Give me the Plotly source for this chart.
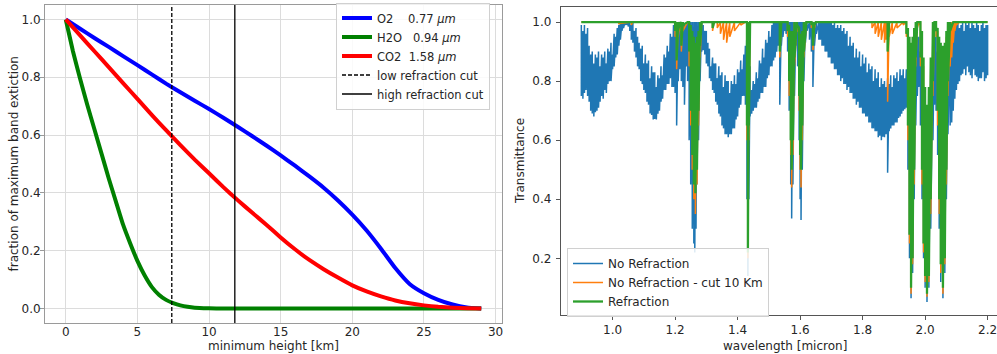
import plotly.graph_objects as go

# ---------------- left panel data ----------------
height_km = [0, 1, 2, 3, 4, 5, 6, 7, 8, 9, 10, 11, 12, 13, 14, 15, 16, 17, 18, 19,
             20, 21, 22, 23, 24, 25, 26, 27, 28, 29]
o2_frac = [1.0, 0.968, 0.936, 0.905, 0.873, 0.842, 0.81, 0.778, 0.748, 0.719, 0.69,
           0.66, 0.629, 0.597, 0.564, 0.53, 0.494, 0.457, 0.418, 0.374, 0.325, 0.27,
           0.207, 0.14, 0.085, 0.053, 0.03, 0.014, 0.004, 0.0]
co2_frac = [1.0, 0.945, 0.89, 0.835, 0.78, 0.725, 0.67, 0.617, 0.565, 0.515, 0.468,
            0.42, 0.375, 0.332, 0.29, 0.246, 0.205, 0.168, 0.136, 0.107, 0.08, 0.059,
            0.042, 0.028, 0.018, 0.011, 0.006, 0.003, 0.001, 0.0]
h2o_km = [0, 0.5, 1, 1.5, 2, 2.5, 3, 3.5, 4, 4.5, 5, 5.5, 6, 6.5, 7, 7.5, 8, 8.5, 9,
          10, 11, 15, 20, 25, 29]
h2o_frac = [1.0, 0.89, 0.795, 0.705, 0.62, 0.535, 0.45, 0.37, 0.29, 0.225, 0.165,
            0.115, 0.075, 0.048, 0.03, 0.019, 0.011, 0.006, 0.003, 0.001, 0.0, 0.0,
            0.0, 0.0, 0.0]
low_cut_km = 7.4
high_cut_km = 11.8
left_xticks = [0, 5, 10, 15, 20, 25, 30]
left_yticks = [0.0, 0.2, 0.4, 0.6, 0.8, 1.0]

# ---------------- right panel data: (wavelength, upper, lower) ----------------
no_refraction = [
    (0.900, 0.99, 0.75), (0.905, 0.97, 0.74), (0.910, 0.99, 0.76), (0.915, 0.96, 0.77),
    (0.920, 0.98, 0.75), (0.925, 0.92, 0.73), (0.930, 0.89, 0.70), (0.935, 0.90, 0.69),
    (0.940, 0.86, 0.68), (0.945, 0.89, 0.695), (0.950, 0.88, 0.70), (0.955, 0.90, 0.71),
    (0.960, 0.85, 0.73), (0.965, 0.89, 0.75), (0.970, 0.88, 0.74), (0.975, 0.90, 0.77),
    (0.980, 0.86, 0.76), (0.985, 0.91, 0.79), (0.990, 0.90, 0.80), (0.995, 0.93, 0.80),
    (1.000, 0.89, 0.84), (1.005, 0.96, 0.85), (1.010, 0.95, 0.88), (1.015, 0.98, 0.89),
    (1.020, 0.99, 0.92), (1.025, 1.00, 0.94), (1.030, 1.00, 0.97), (1.035, 1.00, 0.98),
    (1.040, 1.00, 0.99), (1.045, 1.00, 0.99), (1.050, 1.00, 0.985), (1.055, 1.00, 0.97),
    (1.060, 0.99, 0.94), (1.065, 1.00, 0.93), (1.070, 0.97, 0.90), (1.075, 0.98, 0.88),
    (1.080, 0.95, 0.85), (1.085, 0.93, 0.84), (1.090, 0.91, 0.80), (1.095, 0.92, 0.79),
    (1.100, 0.86, 0.77), (1.105, 0.89, 0.76), (1.110, 0.86, 0.73), (1.115, 0.87, 0.72),
    (1.120, 0.81, 0.69), (1.125, 0.85, 0.685), (1.130, 0.83, 0.67), (1.135, 0.83, 0.672),
    (1.140, 0.78, 0.67), (1.145, 0.82, 0.69), (1.150, 0.81, 0.70), (1.155, 0.85, 0.73),
    (1.160, 0.82, 0.74), (1.165, 0.89, 0.77), (1.170, 0.88, 0.77), (1.175, 0.92, 0.79),
    (1.180, 0.90, 0.79), (1.185, 0.96, 0.81), (1.190, 0.95, 0.78), (1.195, 0.99, 0.78),
    (1.200, 0.98, 0.76), (1.205, 0.99, 0.65), (1.210, 0.99, 0.80), (1.215, 0.99, 0.84),
    (1.220, 0.99, 0.80), (1.225, 0.99, 0.78), (1.230, 0.99, 0.72), (1.235, 0.99, 0.85),
    (1.240, 1.00, 0.80), (1.245, 1.00, 0.60), (1.250, 1.00, 0.45), (1.255, 1.00, 0.30),
    (1.260, 1.00, 0.25), (1.263, 1.00, 0.22), (1.267, 1.00, 0.30), (1.270, 1.00, 0.45),
    (1.275, 1.00, 0.60), (1.280, 1.00, 0.80), (1.285, 1.00, 0.90), (1.290, 0.99, 0.905),
    (1.295, 0.97, 0.89), (1.300, 0.97, 0.86), (1.305, 0.93, 0.85), (1.310, 0.91, 0.81),
    (1.315, 0.85, 0.80), (1.320, 0.88, 0.77), (1.325, 0.86, 0.76), (1.330, 0.86, 0.73),
    (1.335, 0.81, 0.72), (1.340, 0.85, 0.69), (1.345, 0.82, 0.68), (1.350, 0.83, 0.65),
    (1.355, 0.78, 0.64), (1.360, 0.82, 0.62), (1.365, 0.80, 0.62), (1.370, 0.80, 0.61),
    (1.375, 0.76, 0.62), (1.380, 0.80, 0.62), (1.385, 0.79, 0.64), (1.390, 0.82, 0.64),
    (1.395, 0.79, 0.67), (1.400, 0.84, 0.68), (1.405, 0.83, 0.71), (1.410, 0.87, 0.72),
    (1.415, 0.84, 0.75), (1.420, 0.89, 0.75), (1.425, 0.92, 0.72), (1.430, 0.98, 0.40),
    (1.433, 1.00, 0.14), (1.436, 0.98, 0.40), (1.440, 0.85, 0.68), (1.445, 0.77, 0.69),
    (1.450, 0.80, 0.70), (1.455, 0.79, 0.71), (1.460, 0.83, 0.71), (1.465, 0.81, 0.73),
    (1.470, 0.87, 0.74), (1.475, 0.86, 0.76), (1.480, 0.91, 0.76), (1.485, 0.88, 0.78),
    (1.490, 0.94, 0.78), (1.495, 0.93, 0.81), (1.500, 0.97, 0.82), (1.505, 0.95, 0.85),
    (1.510, 0.99, 0.85), (1.515, 1.00, 0.87), (1.520, 1.00, 0.88), (1.525, 1.00, 0.90),
    (1.530, 1.00, 0.92), (1.535, 1.00, 0.72), (1.540, 1.00, 0.92), (1.545, 1.00, 0.95),
    (1.550, 1.00, 0.97), (1.555, 1.00, 0.96), (1.560, 1.00, 0.90), (1.565, 1.00, 0.70),
    (1.570, 1.00, 0.45), (1.573, 1.00, 0.335), (1.577, 1.00, 0.45), (1.582, 1.00, 0.75),
    (1.587, 1.00, 0.92), (1.592, 1.00, 0.85), (1.597, 1.00, 0.60), (1.600, 1.00, 0.40),
    (1.603, 1.00, 0.33), (1.607, 1.00, 0.50), (1.612, 1.00, 0.80), (1.617, 1.00, 0.93),
    (1.622, 1.00, 0.97), (1.630, 1.00, 0.94), (1.636, 1.00, 0.90), (1.641, 1.00, 0.78),
    (1.646, 1.00, 0.92), (1.652, 1.00, 0.96), (1.660, 1.00, 0.94), (1.665, 1.00, 0.94),
    (1.670, 1.00, 0.92), (1.675, 1.00, 0.92), (1.680, 1.00, 0.90), (1.685, 1.00, 0.90),
    (1.690, 1.00, 0.88), (1.695, 1.00, 0.88), (1.700, 1.00, 0.86), (1.705, 0.99, 0.86),
    (1.710, 1.00, 0.84), (1.715, 0.98, 0.84), (1.720, 0.99, 0.82), (1.725, 0.98, 0.82),
    (1.730, 0.99, 0.80), (1.735, 0.97, 0.81), (1.740, 0.98, 0.79), (1.745, 0.96, 0.79),
    (1.750, 0.97, 0.77), (1.755, 0.92, 0.78), (1.760, 0.95, 0.76), (1.765, 0.92, 0.76),
    (1.770, 0.93, 0.74), (1.775, 0.88, 0.74), (1.780, 0.91, 0.72), (1.785, 0.88, 0.73),
    (1.790, 0.90, 0.71), (1.795, 0.85, 0.71), (1.800, 0.89, 0.69), (1.805, 0.86, 0.69),
    (1.810, 0.88, 0.68), (1.815, 0.83, 0.68), (1.820, 0.86, 0.66), (1.825, 0.84, 0.66),
    (1.830, 0.85, 0.64), (1.835, 0.80, 0.64), (1.840, 0.84, 0.63), (1.845, 0.81, 0.63),
    (1.850, 0.83, 0.61), (1.855, 0.78, 0.615), (1.860, 0.81, 0.60), (1.865, 0.79, 0.612),
    (1.870, 0.80, 0.61), (1.875, 0.78, 0.62), (1.880, 0.81, 0.49), (1.885, 0.79, 0.63),
    (1.890, 0.82, 0.64), (1.895, 0.78, 0.65), (1.900, 0.82, 0.65), (1.905, 0.81, 0.66),
    (1.910, 0.83, 0.66), (1.915, 0.80, 0.675), (1.920, 0.84, 0.68), (1.925, 0.82, 0.69),
    (1.930, 0.84, 0.70), (1.935, 0.81, 0.705), (1.940, 0.84, 0.71), (1.945, 0.80, 0.50),
    (1.950, 0.75, 0.20), (1.955, 0.73, 0.065), (1.960, 0.75, 0.15), (1.965, 0.80, 0.40),
    (1.970, 0.90, 0.65), (1.975, 0.95, 0.75), (1.980, 0.95, 0.78), (1.985, 0.90, 0.65),
    (1.990, 0.85, 0.40), (1.995, 0.75, 0.20), (2.000, 0.70, 0.10), (2.006, 0.68, 0.052),
    (2.012, 0.72, 0.10), (2.018, 0.80, 0.30), (2.025, 0.92, 0.60), (2.030, 0.96, 0.72),
    (2.035, 0.95, 0.70), (2.040, 0.90, 0.55), (2.045, 0.85, 0.30), (2.050, 0.80, 0.12),
    (2.057, 0.78, 0.065), (2.063, 0.80, 0.15), (2.068, 0.85, 0.40), (2.073, 0.90, 0.62),
    (2.080, 0.93, 0.65), (2.085, 0.95, 0.66), (2.090, 0.96, 0.70), (2.095, 0.98, 0.74),
    (2.100, 0.99, 0.77), (2.105, 1.00, 0.79), (2.110, 0.98, 0.80), (2.115, 0.99, 0.82),
    (2.120, 1.00, 0.825), (2.125, 0.97, 0.84), (2.130, 1.00, 0.82), (2.135, 0.99, 0.85),
    (2.140, 1.00, 0.83), (2.145, 0.98, 0.82), (2.150, 1.00, 0.81), (2.155, 0.99, 0.84),
    (2.160, 0.98, 0.82), (2.165, 1.00, 0.815), (2.170, 0.99, 0.80), (2.175, 0.97, 0.81),
    (2.180, 0.99, 0.81), (2.185, 1.00, 0.83), (2.190, 0.98, 0.80), (2.195, 0.99, 0.81),
    (2.200, 0.99, 0.82),
]
no_refraction_cut10 = [
    (0.900, 1.0, 1.0), (1.015, 1.0, 1.0), (1.020, 1.0, 0.995), (1.060, 1.0, 0.99),
    (1.065, 1.0, 1.0), (1.195, 1.0, 1.0), (1.200, 1.0, 0.95), (1.205, 1.0, 0.84),
    (1.210, 1.0, 0.95), (1.215, 1.0, 0.97), (1.220, 1.0, 0.90), (1.225, 1.0, 0.97),
    (1.240, 1.0, 1.0), (1.245, 1.0, 0.85), (1.250, 0.98, 0.65), (1.255, 0.95, 0.50),
    (1.260, 0.92, 0.40), (1.265, 0.90, 0.35), (1.270, 0.92, 0.45), (1.275, 0.95, 0.65),
    (1.280, 0.99, 0.88), (1.285, 1.0, 1.0), (1.315, 1.0, 1.0), (1.320, 1.0, 0.97),
    (1.325, 1.0, 1.0), (1.335, 1.0, 0.98), (1.345, 1.0, 0.96), (1.355, 1.0, 0.94),
    (1.365, 1.0, 0.93), (1.375, 1.0, 0.95), (1.390, 1.0, 0.97), (1.410, 1.0, 0.99),
    (1.425, 1.0, 1.0), (1.430, 1.0, 0.60), (1.433, 1.0, 0.20), (1.436, 1.0, 0.60),
    (1.440, 1.0, 1.0), (1.530, 1.0, 1.0), (1.535, 1.0, 0.88), (1.540, 1.0, 1.0),
    (1.560, 1.0, 0.95), (1.565, 0.98, 0.75), (1.570, 0.95, 0.55), (1.573, 0.95, 0.44),
    (1.577, 0.96, 0.55), (1.582, 1.0, 0.85), (1.590, 1.0, 0.97), (1.597, 0.97, 0.70),
    (1.600, 0.95, 0.50), (1.603, 0.95, 0.44), (1.607, 0.96, 0.60), (1.612, 1.0, 0.88),
    (1.620, 1.0, 1.0), (1.636, 1.0, 0.98), (1.641, 1.0, 0.905), (1.646, 1.0, 0.98),
    (1.650, 1.0, 1.0), (1.820, 1.0, 1.0), (1.830, 1.0, 0.98), (1.840, 1.0, 0.96),
    (1.850, 1.0, 0.95), (1.860, 1.0, 0.94), (1.870, 1.0, 0.93), (1.875, 1.0, 0.94),
    (1.880, 1.0, 0.73), (1.885, 1.0, 0.95), (1.895, 1.0, 0.96), (1.910, 1.0, 0.98),
    (1.930, 1.0, 0.99), (1.940, 1.0, 0.95), (1.945, 0.97, 0.60), (1.950, 0.92, 0.25),
    (1.955, 0.90, 0.08), (1.960, 0.92, 0.18), (1.965, 0.95, 0.45), (1.970, 1.0, 0.85),
    (1.975, 1.0, 0.98), (1.980, 1.0, 0.99), (1.985, 1.0, 0.85), (1.990, 0.95, 0.45),
    (1.995, 0.85, 0.22), (2.000, 0.75, 0.12), (2.006, 0.70, 0.07), (2.012, 0.75, 0.12),
    (2.018, 0.85, 0.35), (2.025, 0.98, 0.75), (2.030, 1.0, 0.97), (2.035, 1.0, 0.95),
    (2.040, 0.97, 0.65), (2.045, 0.92, 0.35), (2.050, 0.90, 0.15), (2.057, 0.88, 0.08),
    (2.063, 0.90, 0.18), (2.068, 0.95, 0.45), (2.073, 0.98, 0.75), (2.080, 1.0, 0.85),
    (2.085, 1.0, 0.88), (2.090, 1.0, 0.93), (2.095, 1.0, 0.97), (2.100, 1.0, 0.99),
    (2.110, 1.0, 1.0), (2.200, 1.0, 1.0),
]
refraction = [
    (0.900, 1.0, 1.0), (1.195, 1.0, 1.0), (1.200, 1.0, 0.97), (1.205, 1.0, 0.87),
    (1.210, 1.0, 0.97), (1.215, 1.0, 0.99), (1.220, 1.0, 0.92), (1.225, 1.0, 0.99),
    (1.240, 1.0, 1.0), (1.245, 1.0, 0.90), (1.250, 0.99, 0.70), (1.255, 0.97, 0.55),
    (1.260, 0.95, 0.45), (1.265, 0.93, 0.42), (1.270, 0.95, 0.50), (1.275, 0.97, 0.70),
    (1.280, 1.0, 0.92), (1.285, 1.0, 1.0), (1.315, 1.0, 1.0), (1.320, 1.0, 0.98),
    (1.325, 1.0, 1.0), (1.428, 1.0, 1.0), (1.430, 1.0, 0.65), (1.433, 1.0, 0.22),
    (1.436, 1.0, 0.65), (1.440, 1.0, 1.0), (1.530, 1.0, 1.0), (1.535, 1.0, 0.90),
    (1.540, 1.0, 1.0), (1.560, 1.0, 0.97), (1.565, 0.99, 0.80), (1.570, 0.97, 0.60),
    (1.573, 0.96, 0.50), (1.577, 0.97, 0.60), (1.582, 1.0, 0.88), (1.590, 1.0, 0.99),
    (1.597, 0.98, 0.75), (1.600, 0.96, 0.55), (1.603, 0.96, 0.50), (1.607, 0.97, 0.65),
    (1.612, 1.0, 0.90), (1.620, 1.0, 1.0), (1.636, 1.0, 0.99), (1.641, 1.0, 0.92),
    (1.646, 1.0, 0.99), (1.650, 1.0, 1.0), (1.875, 1.0, 1.0), (1.880, 1.0, 0.90),
    (1.885, 1.0, 1.0), (1.935, 1.0, 1.0), (1.940, 1.0, 0.96), (1.945, 0.98, 0.65),
    (1.950, 0.95, 0.28), (1.955, 0.93, 0.10), (1.960, 0.95, 0.20), (1.965, 0.98, 0.50),
    (1.970, 1.0, 0.88), (1.975, 1.0, 1.0), (1.982, 1.0, 1.0), (1.985, 1.0, 0.88),
    (1.990, 0.97, 0.50), (1.995, 0.88, 0.25), (2.000, 0.78, 0.14), (2.006, 0.72, 0.08),
    (2.012, 0.78, 0.14), (2.018, 0.88, 0.40), (2.025, 1.0, 0.80), (2.030, 1.0, 1.0),
    (2.035, 1.0, 0.97), (2.040, 0.98, 0.70), (2.045, 0.95, 0.40), (2.050, 0.93, 0.18),
    (2.057, 0.92, 0.10), (2.063, 0.93, 0.20), (2.068, 0.97, 0.50), (2.073, 1.0, 0.80),
    (2.080, 1.0, 0.97), (2.090, 1.0, 1.0), (2.200, 1.0, 1.0),
]
right_xticks = [1.0, 1.2, 1.4, 1.6, 1.8, 2.0, 2.2]
right_yticks = [0.2, 0.4, 0.6, 0.8, 1.0]


def zigzag(samples):
    xs, ys = [], []
    for w, hi, lo in samples:
        xs += [w, w]
        ys += [hi, lo]
    return xs, ys


FONT = "DejaVu Sans"
TXT = "#262626"
NB = "\u00a0"

fig = go.Figure()

# ---- left panel ----
fig.add_trace(go.Scatter(x=height_km, y=o2_frac, mode="lines",
                         line=dict(color="#0000ff", width=4, shape="spline", smoothing=0.4),
                         name="O2" + NB * 4 + "0.77 <i>μm</i>", legend="legend",
                         xaxis="x", yaxis="y"))
fig.add_trace(go.Scatter(x=h2o_km, y=h2o_frac, mode="lines",
                         line=dict(color="#008000", width=4, shape="spline", smoothing=0.4),
                         name="H2O" + NB * 3 + "0.94 <i>μm</i>", legend="legend",
                         xaxis="x", yaxis="y"))
fig.add_trace(go.Scatter(x=height_km, y=co2_frac, mode="lines",
                         line=dict(color="#ff0000", width=4, shape="spline", smoothing=0.4),
                         name="CO2" + NB * 2 + "1.58 <i>μm</i>", legend="legend",
                         xaxis="x", yaxis="y"))
fig.add_trace(go.Scatter(x=[low_cut_km, low_cut_km], y=[-0.05, 1.05], mode="lines",
                         line=dict(color="black", width=1.3, dash="4px,2px"),
                         name="low refraction cut", legend="legend",
                         xaxis="x", yaxis="y"))
fig.add_trace(go.Scatter(x=[high_cut_km, high_cut_km], y=[-0.05, 1.05], mode="lines",
                         line=dict(color="black", width=1.3),
                         name="high refraction cut", legend="legend",
                         xaxis="x", yaxis="y"))

# ---- right panel ----
for samples, color, width, label in [
    (no_refraction, "#1f77b4", 1.5, "No Refraction"),
    (no_refraction_cut10, "#ff7f0e", 1.5, "No Refraction - cut 10 Km"),
    (refraction, "#2ca02c", 2.3, "Refraction"),
]:
    xs, ys = zigzag(samples)
    fig.add_trace(go.Scatter(x=xs, y=ys, mode="lines",
                             line=dict(color=color, width=width),
                             name=label, legend="legend2",
                             xaxis="x2", yaxis="y2"))

W, H = 997, 354
L1, R1, T1, B1 = 45, 502, 5, 323
L2, R2, T2, B2 = 561, 997, 7, 315

tickfont = dict(family=FONT, size=12, color=TXT)
left_axis_common = dict(showline=True, linecolor="#9a9a9a", linewidth=1, mirror=True,
                        showgrid=True, gridcolor="#dcdcdc", gridwidth=1,
                        zeroline=False, tickfont=tickfont)
right_axis_common = dict(showline=True, linecolor="#555555", linewidth=1.3,
                         ticks="outside", ticklen=4, tickcolor="#555555",
                         showgrid=False, zeroline=False, tickfont=tickfont)

fig.update_layout(
    width=W, height=H, autosize=False,
    margin=dict(l=0, r=0, t=0, b=0),
    paper_bgcolor="white", plot_bgcolor="white",
    font=dict(family=FONT, size=12, color=TXT),
    xaxis=dict(domain=[L1 / W, R1 / W], range=[-1.45, 30.45], tickvals=left_xticks,
               ticks="", ticklabelstandoff=-2, anchor="y", **left_axis_common),
    yaxis=dict(domain=[(H - B1) / H, (H - T1) / H], range=[-0.05, 1.05],
               tickvals=left_yticks, tickformat=".1f", ticks="outside", ticklen=4,
               tickcolor="#9a9a9a", ticklabelstandoff=-3, anchor="x",
               **left_axis_common),
    xaxis2=dict(domain=[L2 / W, R2 / W], range=[0.835, 2.230], tickvals=right_xticks,
                tickformat=".1f", anchor="y2", mirror=True, ticklabelstandoff=-1,
                ticklabeloverflow="allow", **right_axis_common),
    yaxis2=dict(domain=[(H - B2) / H, (H - T2) / H], range=[0.008, 1.051],
                tickvals=right_yticks, tickformat=".1f", anchor="x2", mirror=False,
                ticklabelstandoff=2, **right_axis_common),
    legend=dict(x=336 / W, y=1 - 56 / H, xanchor="left", yanchor="middle",
                bgcolor="rgba(255,255,255,0.85)", bordercolor="#d0d0d0", borderwidth=1,
                font=dict(family=FONT, size=11.5, color=TXT)),
    legend2=dict(x=567 / W, y=1 - 282.5 / H, xanchor="left", yanchor="middle",
                 bgcolor="rgba(255,255,255,0.85)", bordercolor="#d0d0d0", borderwidth=1,
                 font=dict(family=FONT, size=12, color=TXT)),
    annotations=[
        dict(text="minimum height [km]", x=273.5 / W, y=(H - 346) / H, xref="paper",
             yref="paper", xanchor="center", yanchor="middle", showarrow=False,
             font=dict(family=FONT, size=12, color=TXT)),
        dict(text="wavelength [micron]", x=784.5 / W, y=(H - 346) / H, xref="paper",
             yref="paper", xanchor="center", yanchor="middle", showarrow=False,
             font=dict(family=FONT, size=12, color=TXT)),
        dict(text="fraction of maximum band extiction", x=13 / W, y=(H - 164.5) / H,
             xref="paper", yref="paper", xanchor="center", yanchor="middle",
             textangle=-90, showarrow=False, font=dict(family=FONT, size=12, color=TXT)),
        dict(text="Transmittance", x=520 / W, y=(H - 161) / H, xref="paper",
             yref="paper", xanchor="center", yanchor="middle", textangle=-90,
             showarrow=False, font=dict(family=FONT, size=12, color=TXT)),
    ],
)

# the page's default 8px body margin would shift the figure; remove it
fig.write_html("out.html", config={"displayModeBar": False},
               post_script="document.body.style.margin='0px';")
